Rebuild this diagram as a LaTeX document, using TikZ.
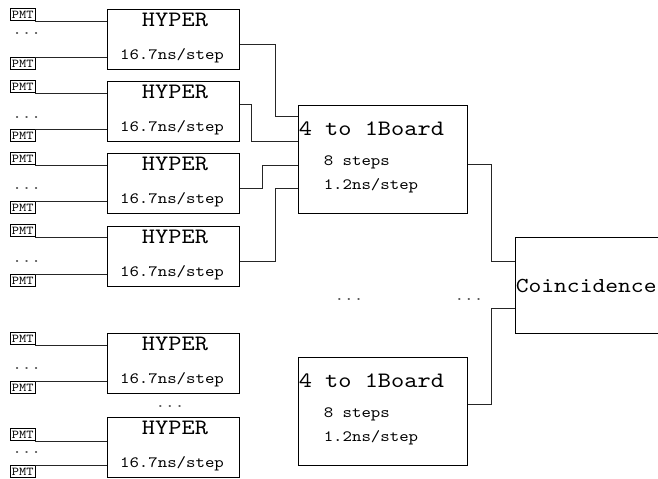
\documentclass[tikz,border=0pt]{standalone}
\usepackage{fontspec}
\setmonofont{lmmono10-regular.otf}[FakeStretch=1.143]
\usetikzlibrary{positioning,calc}
\tikzset{
  hbox/.style  = {draw, line width=0.75pt, minimum width=99pt, minimum height=45pt, inner sep=0pt},
  bbox/.style  = {draw, line width=0.75pt, minimum width=126.75pt, minimum height=81pt, inner sep=0pt},
  cbox/.style  = {draw, line width=0.75pt, minimum width=135pt, minimum height=72pt, inner sep=0pt},
  pmt/.style   = {draw, line width=0.5pt, font=\ttfamily\fontsize{9}{9}\selectfont, inner xsep=1.2pt, inner ysep=1.8pt},
  big/.style   = {font=\ttfamily\fontsize{16.5}{16.5}\selectfont, inner sep=0pt},
  small/.style = {font=\ttfamily\fontsize{11.8}{12}\selectfont, inner sep=0pt},
  dotx/.style  = {font=\ttfamily\fontsize{12}{12}\selectfont, inner sep=0pt, text=black!70},
  wire/.style  = {line width=0.75pt, draw=black!85},
}

\begin{document}
\begin{tikzpicture}[x=0.75pt, y=-0.75pt]
  \useasboundingbox (0,0) rectangle (658,479);
  \clip (0,0) rectangle (658,479);
  % HYPER units with their PMT inputs
  \foreach \i/\t/\u/\d in {1/9/12/24, 2/81/12/36, 3/153/12/35, 4/226/11/35, 5/333/12/35, 6/417/24/35} {
    \node[hbox] (h\i) at (173,\t+30) {};
    \node[big, anchor=base] (ht\i) at ($(h\i.north)+(2,18)$) {HYPER};
    \node[small, anchor=base] (hs\i) at ($(h\i.north)+(-1,51)$) {16.7ns/step};
    \node[pmt, anchor=south west] (p\i a) at (10,\t+\u) {PMT};
    \node[pmt, anchor=north west] (p\i b) at (10,\t+48) {PMT};
    \node[dotx, anchor=base west] (d\i) at (12,\t+\d+1) {...};
    \draw[wire] (p\i a.south east) -- (p\i a.south east -| h\i.west);
    \draw[wire] (p\i b.north east) -- (p\i b.north east -| h\i.west);
  }
  \node[dotx, anchor=base] (hdots) at (170,407) {...};

  % 4 to 1 boards
  \node[bbox] (b1) at (382.5,159) {};
  \node[big, anchor=base west] (bt1) at ($(b1.north west)+(1,31)$) {4 to 1Board};
  \node[small, anchor=base west] (bs1) at ($(b1.north west)+(26,61)$) {8 steps};
  \node[small, anchor=base west] (br1) at ($(b1.north west)+(26,85)$) {1.2ns/step};

  \node[bbox] (b2) at (382.5,411) {};
  \node[big, anchor=base west] (bt2) at ($(b2.north west)+(1,31)$) {4 to 1Board};
  \node[small, anchor=base west] (bs2) at ($(b2.north west)+(26,61)$) {8 steps};
  \node[small, anchor=base west] (br2) at ($(b2.north west)+(26,85)$) {1.2ns/step};

  \node[dotx, anchor=base] (bdots1) at (349,300) {...};
  \node[dotx, anchor=base] (bdots2) at (469,300) {...};

  % coincidence
  \node[cbox] (co) at (605,285) {};
  \node[big, font=\ttfamily\fontsize{16}{16}\selectfont, anchor=base west] (ct) at ($(co.north west)+(1,56)$) {Coincidence};

  % HYPER -> board
  \draw[wire] ($(h1.north east)+(0,36)$) -- ++(36,0) |- ($(b1.north west)+(0,12)$);
  \draw[wire] ($(h2.north east)+(0,24)$) -- ++(12,0) |- ($(b1.north west)+(0,37)$);
  \draw[wire] ($(h3.north east)+(0,36)$) -- ++(23,0) |- ($(b1.north west)+(0,61)$);
  \draw[wire] ($(h4.north east)+(0,36)$) -- ++(36,0) |- ($(b1.north west)+(0,84)$);

  % board -> coincidence
  \draw[wire] ($(b1.north east)+(0,60)$) -- ++(24,0) |- ($(co.north west)+(0,25)$);
  \draw[wire] ($(b2.north east)+(0,48)$) -- ++(24,0) |- ($(co.north west)+(0,72)$);
\end{tikzpicture}
\end{document}
